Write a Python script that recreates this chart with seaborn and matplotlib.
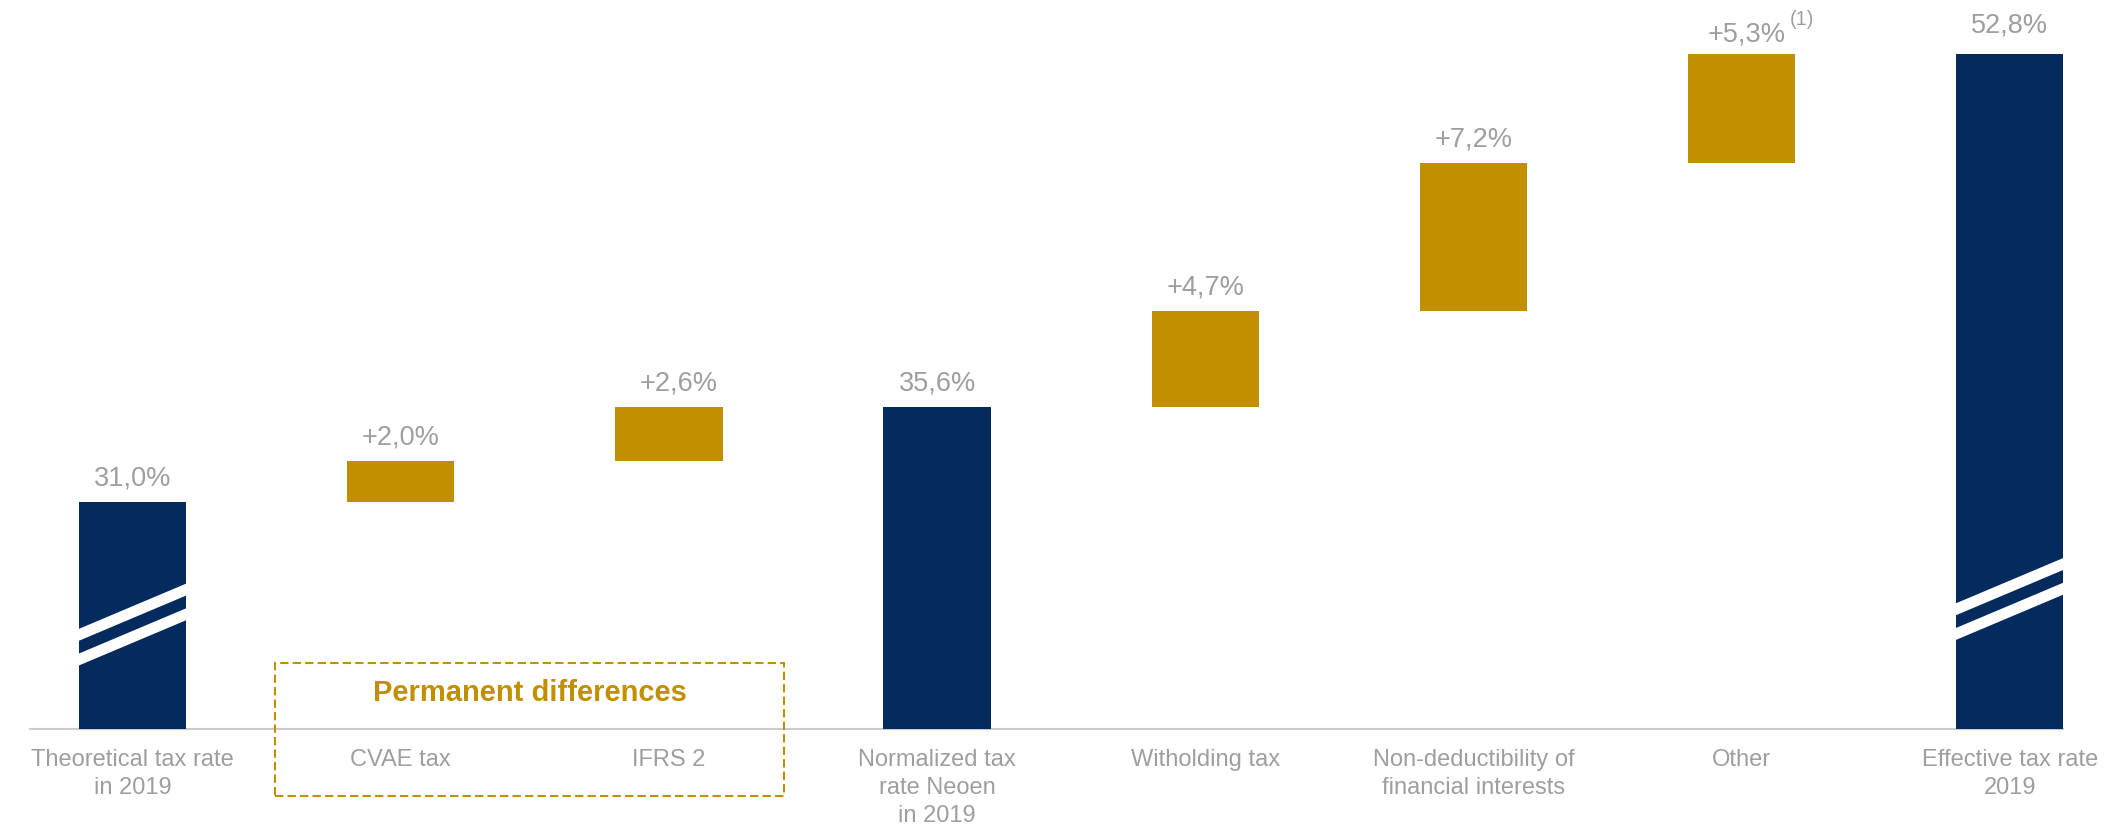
import matplotlib
matplotlib.use("Agg")
import matplotlib.pyplot as plt
import numpy as np
import pandas as pd
import seaborn as sns
from matplotlib.patches import Rectangle

# ---------------- data ----------------
categories = [
    "Theoretical tax rate\nin 2019",
    "CVAE tax",
    "IFRS 2",
    "Normalized tax\nrate Neoen\nin 2019",
    "Witholding tax",
    "Non-deductibility of\nfinancial interests",
    "Other",
    "Effective tax rate\n2019",
]
values = [31.0, 2.0, 2.6, 35.6, 4.7, 7.2, 5.3, 52.8]
is_total = [True, False, False, True, False, False, False, True]
footnotes = ["", "", "", "", "", "", "(1)", ""]
group_title = "Permanent differences"

# ---------------- style ----------------
NAVY = "#032B5E"
GOLD = "#C28F00"
GRAY = "#9E9E9E"
AXIS_GRAY = "#CBCBCB"

sns.set_style("white")
plt.rcParams["font.family"] = ["Liberation Sans", "DejaVu Sans"]

# waterfall geometry derived from the values
bottoms, tops = [], []
running = 0.0
for v, t in zip(values, is_total):
    if t:
        bottoms.append(0.0)
        running = v
    else:
        bottoms.append(running)
        running += v
    tops.append(running)

df = pd.DataFrame({
    "category": categories,
    "value": values,
    "bottom": bottoms,
    "top": tops,
    "total": is_total,
})

fig = plt.figure(figsize=(21.15, 8.26), dpi=100)
ax = fig.add_axes([30 / 2115, (826 - 728.5) / 826, 2033 / 2115, 728.5 / 826])

df_tot = df[df["total"]]
df_inc = df[~df["total"]]

sns.barplot(data=df_tot, x="category", y="value", order=categories,
            color=NAVY, saturation=1, width=0.4, errorbar=None, ax=ax,
            linewidth=0, zorder=2)
sns.barplot(data=df_inc, x="category", y="value", order=categories,
            color=GOLD, saturation=1, width=0.4, errorbar=None, ax=ax,
            bottom=df_inc["bottom"].to_numpy(), linewidth=0, zorder=2)

ax.set_xlim(-0.382, 7.198)
ax.set_ylim(20, 55.4)
ax.set_xlabel("")
ax.set_ylabel("")
ax.set_yticks([])
for s in ["top", "left", "right"]:
    ax.spines[s].set_visible(False)
ax.spines["bottom"].set_color(AXIS_GRAY)
ax.spines["bottom"].set_linewidth(1.5)
ax.spines["bottom"].set_zorder(1)

ax.tick_params(axis="x", length=0, pad=15, labelsize=17, labelcolor=GRAY)
for lbl in ax.get_xticklabels():
    lbl.set_linespacing(1.35)

# axis-break stripes on the total bars that start at the truncated axis
def draw_break(xc, ymid, half_w=0.21, slope=5.5, thick=0.29, sep=0.6):
    xs = np.array([xc - half_w, xc + half_w])
    for c in (ymid + sep, ymid - sep):
        ylo = c - thick + slope * (xs - xc)
        yhi = c + thick + slope * (xs - xc)
        ax.fill([xs[0], xs[1], xs[1], xs[0]], [ylo[0], ylo[1], yhi[1], yhi[0]],
                color="white", lw=0, zorder=3)

draw_break(0, 25.05)
draw_break(7, 26.3)

# value labels
px = 0.72  # pixels -> points at dpi 100
nudge = {2: (10, 0), 6: (5, -4), 7: (0, 4.5)}
for i, (v, t, top, fn) in enumerate(zip(values, is_total, tops, footnotes)):
    txt = f"{v:.1f}".replace(".", ",") + "%"
    if not t:
        txt = "+" + txt
    dx, dy = nudge.get(i, (0, 0))
    ann = ax.annotate(txt, xy=(i, top), xytext=(dx * px, (16.5 + dy) * px),
                      textcoords="offset points", ha="center", va="baseline",
                      fontsize=19.5, color=GRAY, annotation_clip=False)
    if fn:
        ax.annotate(fn, xy=(1, 1), xycoords=ann, xytext=(3, 8),
                    textcoords="offset points", ha="left", va="top",
                    fontsize=14.5, color=GRAY, annotation_clip=False)

# dashed group box
box = Rectangle((0.533, 16.71), 2.429 - 0.533, 23.2 - 16.71,
                transform=ax.transData, fill=False, edgecolor=GOLD,
                lw=1.5, linestyle=(0, (4, 2)), clip_on=False, zorder=4)
ax.add_patch(box)
ax.text(1.482, 21.32, group_title, ha="center", va="baseline",
        fontsize=21, fontweight="bold", color=GOLD, zorder=5)

fig.savefig("out.png", dpi=100, facecolor="white")
